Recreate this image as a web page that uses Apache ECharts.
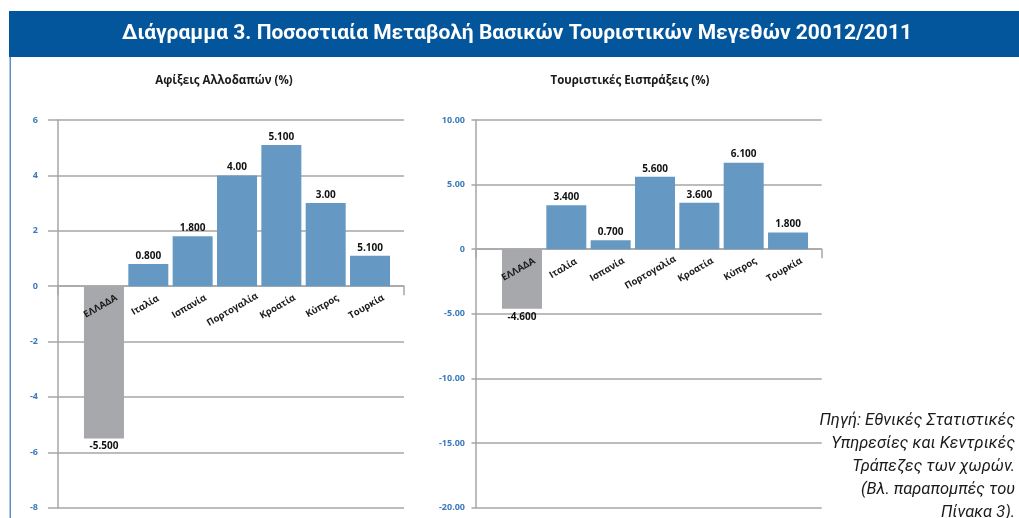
<!DOCTYPE html>
<html>
<head>
<meta charset="utf-8">
<script src="https://cdn.jsdelivr.net/npm/echarts@6/dist/echarts.min.js"></script>
<style>
  html, body { margin: 0; padding: 0; background: #fff; }
  #main { width: 1019px; height: 518px; }
</style>
</head>
<body>
<div id="main"></div>
<script>
  // κατηγορίες και τιμές (διαβασμένες από το διάγραμμα)
  const countries = ['ΕΛΛΑΔΑ', 'Ιταλία', 'Ισπανία', 'Πορτογαλία', 'Κροατία', 'Κύπρος', 'Τουρκία']
  const arrivals = [-5.5, 0.8, 1.8, 4.0, 5.1, 3.0, 1.1]
  const arrivalLabels = ['-5.500', '0.800', '1.800', '4.00', '5.100', '3.00', '5.100']
  const receipts = [-4.6, 3.4, 0.7, 5.6, 3.6, 6.7, 1.3]
  const receiptLabels = ['-4.600', '3.400', '0.700', '5.600', '3.600', '6.100', '1.800']
  const arrivalAxis = [-8, 6, 2] // min, max, βήμα
  const receiptAxis = [-20, 10, 5]

  const GRID_TOP = 120
  const GRID_H = 387.7
  const GRID_LINE = '#a6a6a6'
  const TICK_BLUE = '#3b7bbd'
  const BAR_BLUE = '#6599c3'
  const BAR_GREY = '#a7a8ab'
  const LABEL_FONT = 'bold 9.5px "Open Sans"'

  // rotated labels centred on the bar, top edge at a fixed distance (like Excel)
  const ctx = document.createElement('canvas').getContext('2d')
  ctx.font = LABEL_FONT
  const rich = {}
  countries.forEach((c, i) => {
    const L = ctx.measureText(c).width
    const q = (21 + L / 4) / 1.1547
    rich['l' + i] = {
      fontFamily: 'Open Sans', fontWeight: 'bold', fontSize: 9.5, color: '#1a1a1a',
      lineHeight: 11, padding: [Math.max(0, q - 5.5), 1.1547 * q - 4, 0, 0]
    }
  })

  const chart = echarts.init(document.getElementById('main'))

  function axesPair(gi, min, max, step, fmt, labelMargin, tickLen) {
    return {
      x: {
        type: 'value', gridIndex: gi, min: 0, max: 1, interval: 1,
        axisLine: { onZero: true, lineStyle: { color: GRID_LINE, width: 1.5 } },
        axisTick: { show: true, length: 9, lineStyle: { color: GRID_LINE, width: 1.5 } },
        axisLabel: { show: false }, splitLine: { show: false }
      },
      y: {
        type: 'value', gridIndex: gi, min: min, max: max, interval: step,
        axisLine: { show: true, lineStyle: { color: GRID_LINE, width: 1.5 } },
        axisTick: { show: true, length: tickLen, lineStyle: { color: GRID_LINE, width: 1.5 } },
        splitLine: { show: true, lineStyle: { color: GRID_LINE, width: 1.5 } },
        axisLabel: {
          color: TICK_BLUE, fontSize: 9, fontWeight: 'bold', fontFamily: 'Open Sans',
          margin: labelMargin, formatter: fmt
        }
      }
    }
  }

  function barAxes(gi, min, max) {
    // category axis lifted from the bottom of the grid up to the zero line
    const zeroFromBottom = GRID_H * (0 - min) / (max - min)
    return {
      x: {
        type: 'category', gridIndex: gi, data: countries, position: 'bottom',
        offset: -zeroFromBottom, z: 5,
        axisLine: { show: false, onZero: false },
        axisTick: { show: false },
        axisLabel: {
          interval: 0, rotate: 30, margin: 0, align: 'center', verticalAlign: 'top',
          formatter: (v, i) => '{l' + i + '|' + v + '}', rich: rich
        }
      },
      y: {
        type: 'value', gridIndex: gi, min: min, max: max,
        axisLine: { show: false }, axisTick: { show: false },
        axisLabel: { show: false }, splitLine: { show: false }
      }
    }
  }

  function barSeries(gi, values, labels) {
    return {
      type: 'bar', xAxisIndex: gi, yAxisIndex: gi, barWidth: 40,
      data: values.map((v, i) => ({
        value: v,
        itemStyle: { color: i === 0 ? BAR_GREY : BAR_BLUE },
        label: { position: v < 0 ? 'bottom' : 'top' }
      })),
      label: {
        show: true, distance: 3, color: '#111', fontSize: 10, fontWeight: 'bold',
        fontFamily: 'Open Sans', formatter: p => labels[p.dataIndex]
      }
    }
  }

  const a0 = axesPair(0, arrivalAxis[0], arrivalAxis[1], arrivalAxis[2], v => String(v), 20, 10)
  const a1 = barAxes(1, arrivalAxis[0], arrivalAxis[1])
  const a2 = axesPair(2, receiptAxis[0], receiptAxis[1], receiptAxis[2],
    v => (v === 0 ? '0' : v.toFixed(2)), 11, 4.5)
  const a3 = barAxes(3, receiptAxis[0], receiptAxis[1])

  const gridBase = { top: GRID_TOP, height: GRID_H, containLabel: false, outerBoundsMode: 'none' }

  chart.setOption({
    animation: false,
    title: [{
      text: 'Αφίξεις Αλλοδαπών (%)', left: 219, top: 70, textAlign: 'center',
      textStyle: { fontSize: 11.5, fontWeight: 'bold', color: '#1a1a1a', fontFamily: 'Open Sans' }
    }, {
      text: 'Τουριστικές Εισπράξεις (%)', left: 625, top: 70, textAlign: 'center',
      textStyle: { fontSize: 11.5, fontWeight: 'bold', color: '#1a1a1a', fontFamily: 'Open Sans' }
    }],
    grid: [
      Object.assign({ left: 58, width: 346 }, gridBase),
      Object.assign({ left: 81.8, width: 310.4 }, gridBase),
      Object.assign({ left: 476, width: 345.7 }, gridBase),
      Object.assign({ left: 499.8, width: 310.4 }, gridBase)
    ],
    xAxis: [a0.x, a1.x, a2.x, a3.x],
    yAxis: [a0.y, a1.y, a2.y, a3.y],
    series: [barSeries(1, arrivals, arrivalLabels), barSeries(3, receipts, receiptLabels)],
    graphic: [
      { type: 'rect', shape: { x: 9, y: 11, width: 1010, height: 46 }, style: { fill: '#03569b' } },
      { type: 'rect', shape: { x: 9.5, y: 57, width: 1.5, height: 461 }, style: { fill: '#5b8fc8' } },
      {
        type: 'text', x: 517, y: 34,
        style: {
          text: 'Διάγραμμα 3. Ποσοστιαία Μεταβολή Βασικών Τουριστικών Μεγεθών 20012/2011',
          fill: '#fff', font: 'bold 21px Roboto', align: 'center', verticalAlign: 'middle'
        }
      },
      {
        type: 'text', x: 1015, y: 409,
        style: {
          text: 'Πηγή: Εθνικές Στατιστικές\nΥπηρεσίες και Κεντρικές\nΤράπεζες των χωρών.\n(Βλ. παραπομπές του\nΠίνακα 3).',
          fill: '#1a1a1a', font: 'italic 16.5px Roboto', align: 'right', verticalAlign: 'top',
          lineHeight: 23
        }
      }
    ]
  })
</script>
</body>
</html>
